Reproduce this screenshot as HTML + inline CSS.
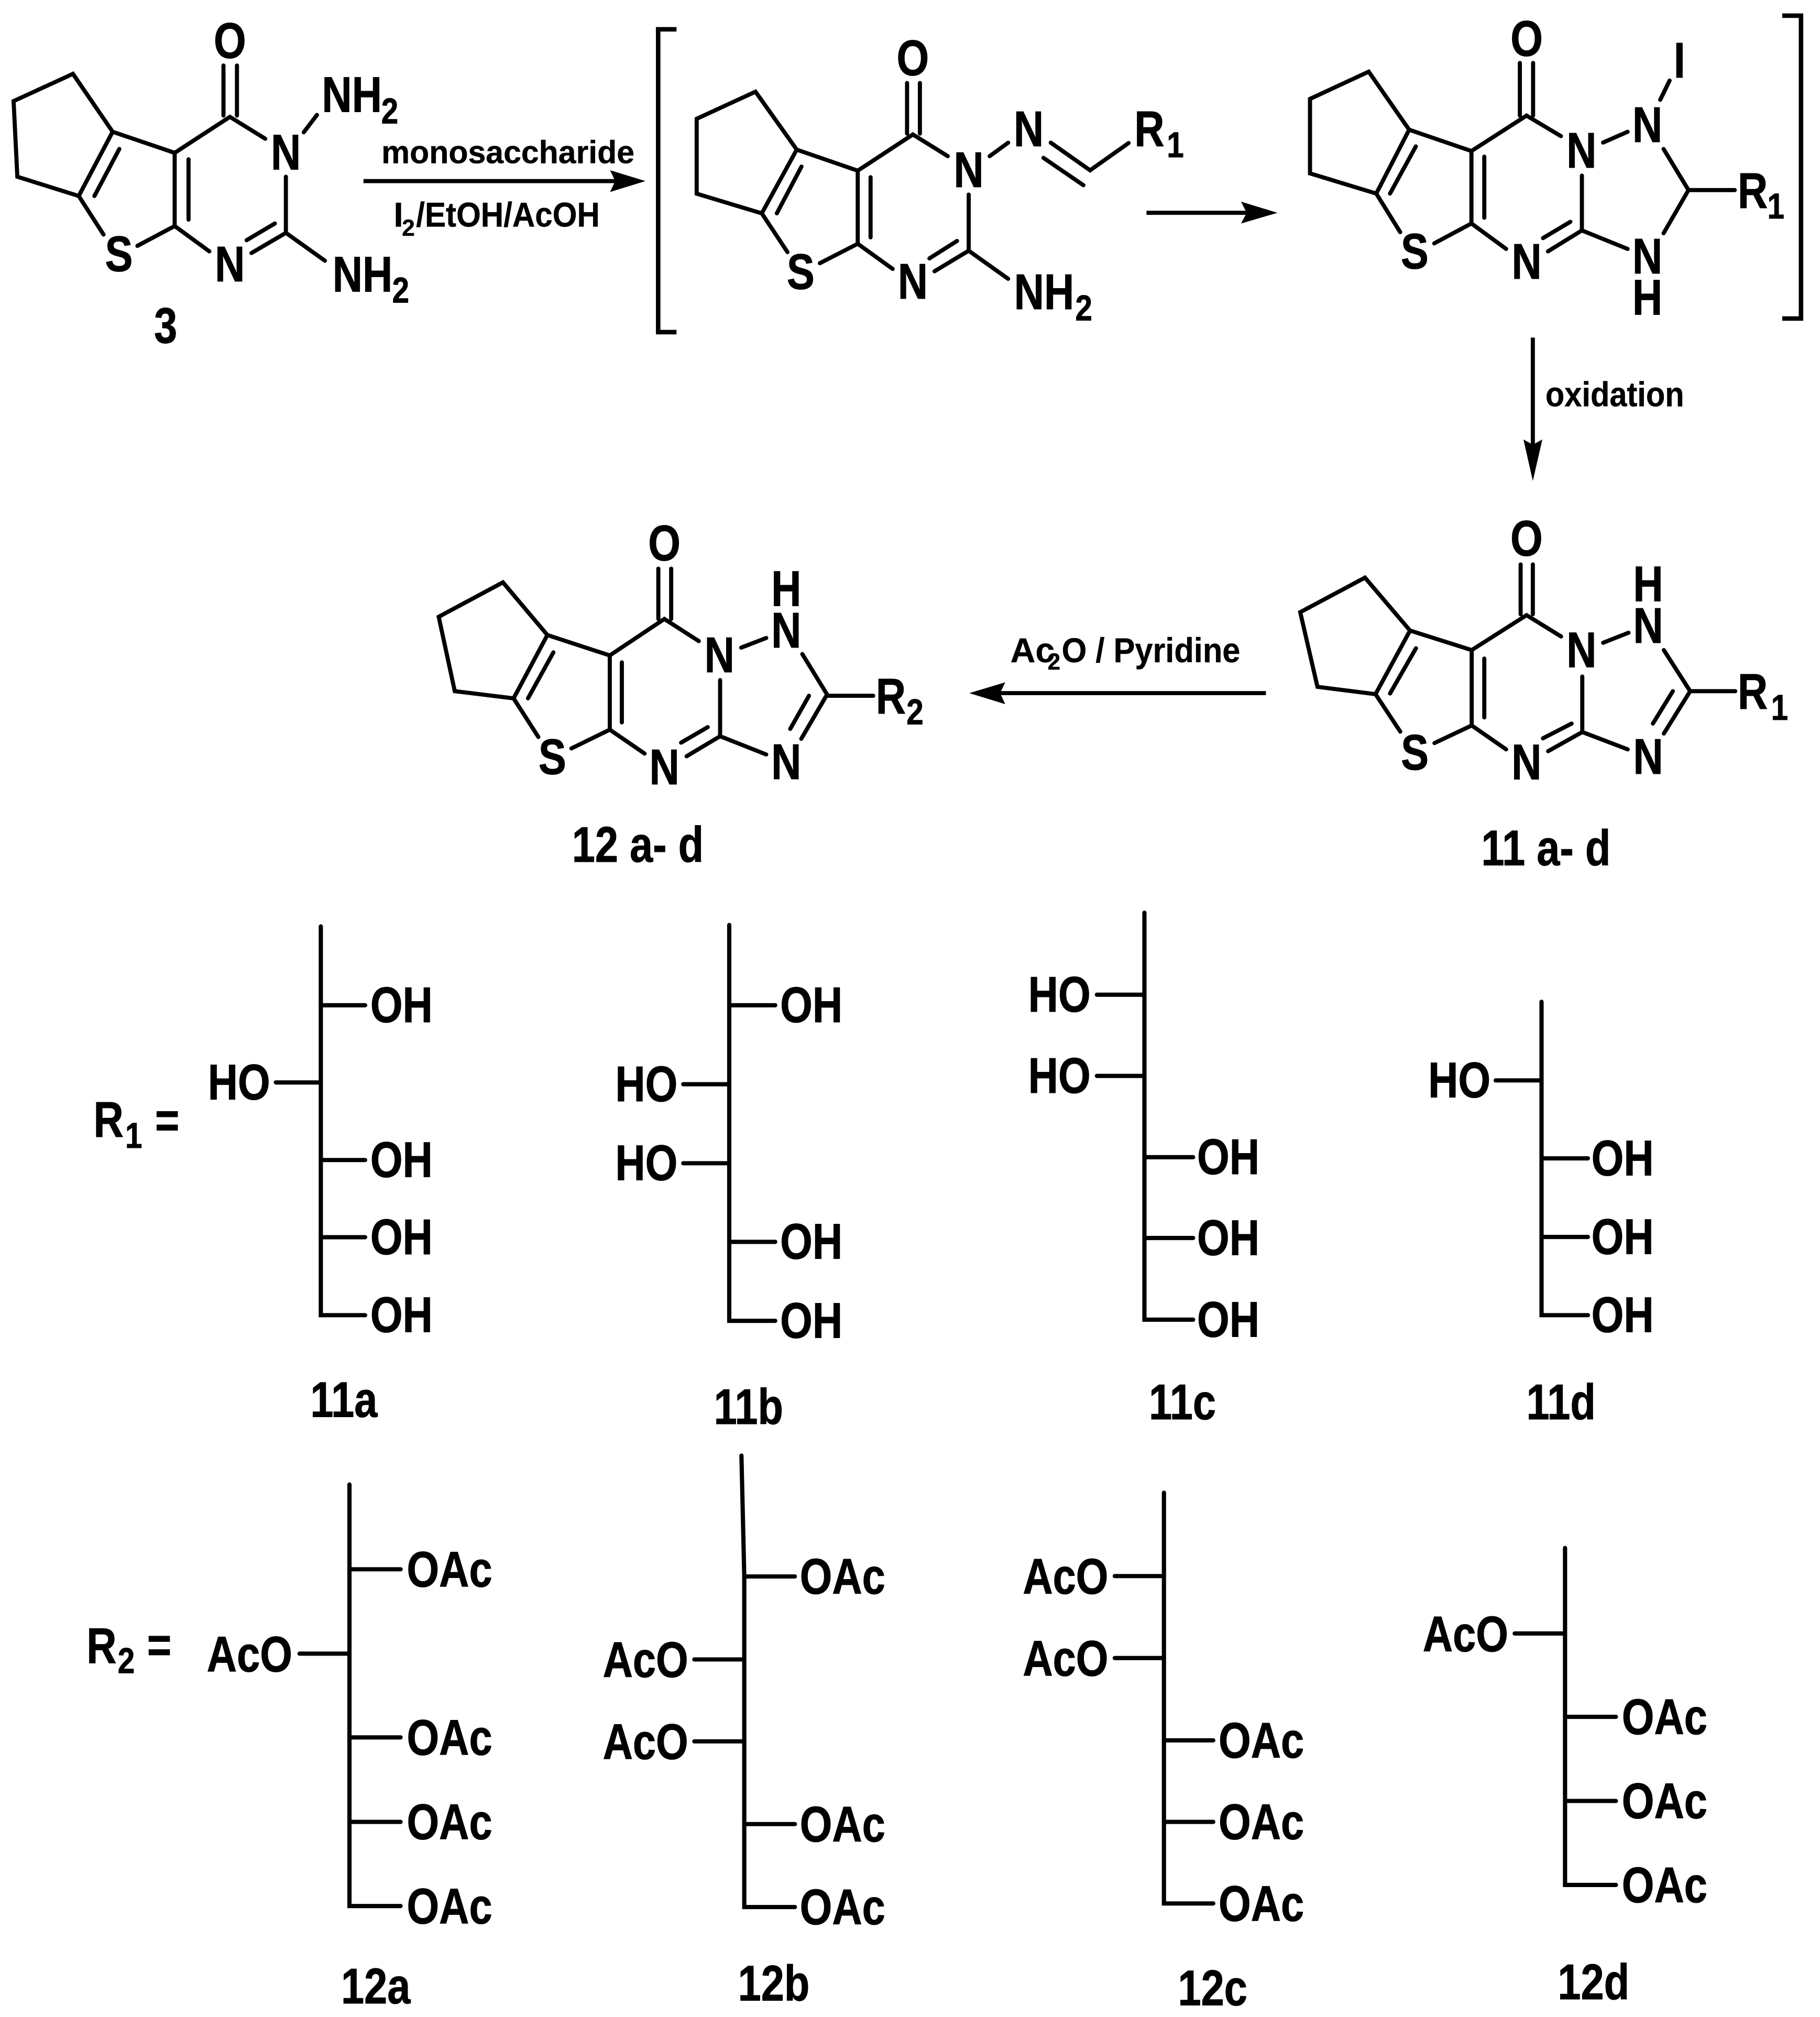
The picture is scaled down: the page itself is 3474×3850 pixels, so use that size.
<!DOCTYPE html>
<html><head><meta charset="utf-8">
<style>
html,body{margin:0;padding:0;background:#fff;width:3474px;height:3850px;overflow:hidden}
svg{display:block}
text{font-family:"Liberation Sans",sans-serif;font-weight:700;fill:#000;stroke:#000;stroke-width:.4;text-anchor:middle;font-size:39px;transform-box:fill-box;transform-origin:center;transform:scaleX(.83)}
text.s{font-size:28px;transform:scaleX(.85)}
text.r{text-anchor:start;font-size:25px;transform:none;stroke-width:.2}
text.r2{text-anchor:start;font-size:27px;transform:none;stroke-width:.2}
text.rs{text-anchor:middle;font-size:18px;transform:none;stroke-width:.2}
line,polyline{stroke:#000;stroke-width:3.2;stroke-linecap:round;stroke-linejoin:miter;fill:none}
.l line,.l polyline{stroke-width:3.3}
polygon{fill:#000;stroke:none}
</style></head><body>
<svg xmlns="http://www.w3.org/2000/svg" width="3474" height="3850" viewBox="0 0 1410 1562.6">
<rect width="1410" height="1562.6" fill="#fff"/>

<!-- Compound 3 -->
<g transform="scale(.995)">
<polyline points="87.7,102.6 56.8,57.5 10.6,78.7 13.5,137.6 61.3,152.6 87.7,102.6 136,119 179,91 206.5,108"/>
<line x1="92.9" y1="116" x2="73.5" y2="152.6"/>
<line x1="174" y1="51" x2="174" y2="90"/><line x1="184.5" y1="51" x2="184.5" y2="90"/>
<line x1="136" y1="119" x2="136" y2="176"/><line x1="146.8" y1="124" x2="146.8" y2="171"/>
<line x1="61.3" y1="152.6" x2="80.6" y2="182.6"/><line x1="107" y1="191.4" x2="136" y2="176"/><line x1="136" y1="176" x2="163" y2="195.7"/>
<line x1="222.6" y1="137.6" x2="222.6" y2="181.3"/><line x1="222.6" y1="181.3" x2="195.8" y2="197"/>
<line x1="214" y1="174" x2="192" y2="187"/><line x1="222.6" y1="181.3" x2="253" y2="203"/>
<line x1="236.5" y1="103" x2="246.8" y2="89.5"/>
<text x="179" y="45">O</text><text x="222.6" y="132">N</text><text x="92.6" y="211">S</text><text x="179" y="219">N</text>
<text x="274" y="87">NH</text><text class="s" x="303.5" y="96">2</text>
<text x="282.3" y="227">NH</text><text class="s" x="312" y="235.6">2</text>
<text x="129" y="267">3</text>
<line x1="283" y1="141" x2="490" y2="141" style="stroke-linecap:butt"/>
<polygon points="502.6,141 475,149.5 479,141 475,132.5"/>
<text class="r" x="297" y="127" textLength="197" lengthAdjust="spacingAndGlyphs">monosaccharide</text>
<text class="r" x="306.5" y="176.4" style="font-size:27px">I</text>
<text class="rs" x="318" y="183.5">2</text>
<text class="r" x="324" y="176.4" textLength="143" lengthAdjust="spacingAndGlyphs" style="font-size:27px">/EtOH/AcOH</text>
</g>

<!-- Hydrazone intermediate -->
<g transform="translate(487.1 0) scale(.995) translate(-487.1 0)">
<polyline points="524.3,22.8 510,22.8 510,258.6 524.3,258.6" style="stroke-linecap:butt;stroke-width:3.5"/>
<polyline points="617.9,116.5 585.8,71.4 540,92.5 540,150.8 590.7,166.1 617.9,116.5 665.4,132.9 708.3,104.7 735.5,121.6"/>
<line x1="621.6" y1="129.7" x2="602.4" y2="166.1"/>
<line x1="703.8" y1="64.6" x2="703.8" y2="104"/><line x1="713.8" y1="64.6" x2="713.8" y2="104"/>
<line x1="665.4" y1="132.9" x2="665.4" y2="189.8"/><line x1="675.4" y1="138" x2="675.4" y2="184.8"/>
<line x1="590.7" y1="166.1" x2="610.7" y2="196.3"/><line x1="635.9" y1="204.9" x2="665.4" y2="189.8"/><line x1="665.4" y1="189.8" x2="692.6" y2="209.4"/>
<line x1="751.8" y1="151.5" x2="751.8" y2="195.2"/><line x1="751.8" y1="195.2" x2="725.2" y2="211.2"/>
<line x1="742.7" y1="187.6" x2="721.2" y2="201.2"/><line x1="751.8" y1="195.2" x2="782.5" y2="217.1"/>
<line x1="768.1" y1="121.6" x2="782.5" y2="111.1"/>
<polyline points="815.7,111.1 846.3,132.6 876.3,111.4"/><line x1="810" y1="122.9" x2="841.1" y2="144.2"/>
<text x="708.3" y="58.6">O</text><text x="751.8" y="145.7">N</text><text x="798.5" y="113.8">N</text>
<text x="892.5" y="113.8">R</text><text class="s" x="912.7" y="122.4">1</text>
<text x="621" y="224.9">S</text><text x="708.3" y="232.5">N</text>
<text x="810.5" y="240.7">NH</text><text class="s" x="841.4" y="249.5">2</text>
</g>

<!-- Iodo intermediate -->
<g transform="translate(933.5 0) scale(.995) translate(-933.5 0)">
<line x1="888" y1="165.7" x2="975" y2="165.7" style="stroke-linecap:butt"/>
<polygon points="990,165.7 961.6,174 966,165.7 961.6,157"/>
<polyline points="1092.5,101 1061,55.8 1015.3,77 1015.3,135 1066.9,150.7 1092.5,101 1141,117.6 1183.9,90 1210.7,106"/>
<line x1="1097.7" y1="114" x2="1077.6" y2="150.7"/>
<line x1="1178.7" y1="49" x2="1178.7" y2="90"/><line x1="1189" y1="49" x2="1189" y2="90"/>
<line x1="1141" y1="117.6" x2="1141" y2="174"/><line x1="1151" y1="122" x2="1151" y2="169.5"/>
<line x1="1066.9" y1="150.7" x2="1085.5" y2="180.7"/><line x1="1112" y1="189.5" x2="1141" y2="174"/><line x1="1141" y1="174" x2="1168" y2="193.8"/>
<line x1="1227" y1="136.7" x2="1227" y2="179.4"/><line x1="1227" y1="179.4" x2="1200.6" y2="195.7"/>
<line x1="1218" y1="172.7" x2="1196.7" y2="185.4"/><line x1="1227" y1="179.4" x2="1262.6" y2="193.8"/>
<line x1="1243.5" y1="111" x2="1262.6" y2="102.6"/>
<polyline points="1290.6,116 1310,148 1290.6,181.6"/><line x1="1310" y1="148" x2="1346" y2="148"/>
<line x1="1288" y1="77.7" x2="1295.3" y2="62.7"/>
<text x="1184" y="43.4">O</text><text x="1303" y="60.3">I</text><text x="1278" y="110.5">N</text><text x="1226.7" y="130.5">N</text>
<text x="1360" y="162">R</text><text class="s" x="1378" y="170">1</text>
<text x="1096.8" y="209">S</text><text x="1184" y="217">N</text><text x="1278" y="213">N</text><text x="1278" y="245">H</text>
<polyline points="1383,12.2 1397.6,12.2 1397.6,248 1383,248" style="stroke-linecap:butt;stroke-width:3.5"/>
</g>

<!-- Compound 11, oxidation and Ac2O arrows -->
<g transform="translate(933.5 251.6) scale(.995) translate(-933.5 -251.6)">
<line x1="1188.8" y1="261.6" x2="1188.8" y2="350" style="stroke-linecap:butt"/>
<polygon points="1188.8,373.2 1181.5,340.9 1188.8,345 1196.2,340.9"/>
<text class="r2" x="1198.6" y="315.1" textLength="108" lengthAdjust="spacingAndGlyphs">oxidation</text>
<polyline points="1093.2,489.7 1058.1,448.5 1007.7,475.4 1021.1,533.5 1066.3,539.2 1093.2,489.7 1141.2,504.9 1183.9,477.7 1210.8,494.3"/>
<line x1="1097.8" y1="503.5" x2="1077.6" y2="538.7"/>
<line x1="1179.3" y1="438.2" x2="1179.3" y2="477"/><line x1="1188.8" y1="438.2" x2="1188.8" y2="477"/>
<line x1="1141.2" y1="504.9" x2="1141.2" y2="563.6"/><line x1="1151" y1="511.5" x2="1151" y2="557.3"/>
<line x1="1066.3" y1="539.2" x2="1085.6" y2="568.4"/><line x1="1112.2" y1="577.3" x2="1141.2" y2="563.6"/><line x1="1141.2" y1="563.6" x2="1168" y2="582.2"/>
<line x1="1227.3" y1="525.5" x2="1227.3" y2="568.7"/><line x1="1227.3" y1="568.7" x2="1200.7" y2="583.6"/>
<line x1="1219" y1="562.1" x2="1196.7" y2="573.6"/><line x1="1227.3" y1="568.7" x2="1262.7" y2="582.2"/>
<line x1="1243.5" y1="499.2" x2="1263.3" y2="491.4"/>
<polyline points="1290.8,504.9 1311.3,536.9 1290.8,569.9"/><line x1="1297.8" y1="536.9" x2="1282.3" y2="562.1"/>
<line x1="1311.3" y1="536.9" x2="1346.4" y2="536.9"/>
<text x="1183.9" y="431.3">O</text><text x="1278.6" y="466.8">H</text><text x="1278.6" y="499.2">N</text><text x="1226.7" y="518.3">N</text>
<text x="1360" y="550.7">R</text><text class="s" x="1380.9" y="559.3">1</text>
<text x="1096.9" y="597.9">S</text><text x="1183.9" y="605.6">N</text><text x="1278.6" y="601.3">N</text>
<text x="1199" y="672.3">11 a- d</text>
<line x1="768" y1="538.4" x2="981" y2="538.4" style="stroke-linecap:butt"/>
<polygon points="750,538.4 778,530 774,538.4 778,547"/>
<text class="r2" x="782" y="514.3">Ac</text>
<text class="rs" x="816" y="520">2</text>
<text class="r2" x="822" y="514.3" textLength="139" lengthAdjust="spacingAndGlyphs">O / Pyridine</text>
</g>

<!-- Compound 12 -->
<g transform="translate(316.6 385.6) scale(.995) translate(-316.6 -385.6)">
<polyline points="424.6,492.5 390,451.5 340,478.3 352.5,536.2 398.3,541.8 424.6,492.5 473.2,508.4 515.7,480 542.5,497.2"/>
<line x1="429.3" y1="506" x2="409.5" y2="541.8"/>
<line x1="511" y1="440.8" x2="511" y2="480"/><line x1="521" y1="440.8" x2="521" y2="480"/>
<line x1="473.2" y1="508.4" x2="473.2" y2="566.2"/><line x1="482.6" y1="513.8" x2="482.6" y2="560.5"/>
<line x1="398.3" y1="541.8" x2="417.6" y2="571.9"/><line x1="443.3" y1="580.8" x2="473.2" y2="566.2"/><line x1="473.2" y1="566.2" x2="500.3" y2="584.8"/>
<line x1="559.1" y1="527.6" x2="559.1" y2="571.3"/><line x1="559.1" y1="571.3" x2="533" y2="586.9"/>
<line x1="549.5" y1="564.2" x2="528.7" y2="576.3"/><line x1="559.1" y1="571.3" x2="595" y2="585.5"/>
<line x1="575.5" y1="502.3" x2="595" y2="494.8"/>
<polyline points="623.1,507.3 642.4,538.8 622.3,573.3"/><line x1="628.3" y1="539.8" x2="613.7" y2="565.6"/>
<line x1="642.4" y1="539.8" x2="678.3" y2="539.8"/>
<text x="515.7" y="434.3">O</text><text x="610.6" y="469.8">H</text><text x="610.6" y="502.3">N</text><text x="558.6" y="521.5">N</text>
<text x="692" y="553.6">R</text><text class="s" x="710.8" y="562">2</text>
<text x="428.5" y="600.7">S</text><text x="515.7" y="608.8">N</text><text x="610.6" y="604.7">N</text>
<text x="495" y="669">12 a- d</text>
</g>

<!-- 11a, 11b -->
<g transform="translate(40.6 698.1) scale(.995) translate(-40.6 -698.1)">
<text x="84.3" y="881.7">R</text><text class="s" x="103.9" y="890.2">1</text><text x="130" y="882">=</text>
<g class="l">
<polyline points="249.6,717.8 249.6,1020.5 284.1,1020.5"/>
<line x1="249.6" y1="779.2" x2="284.1" y2="779.2"/><line x1="214.6" y1="839.3" x2="249.6" y2="839.3"/>
<line x1="249.6" y1="899.7" x2="284.1" y2="899.7"/><line x1="249.6" y1="959.8" x2="284.1" y2="959.8"/>
<polyline points="567.6,716.7 567.6,1024.9 603.4,1024.9"/>
<line x1="567.6" y1="779.2" x2="603.4" y2="779.2"/><line x1="531.8" y1="840.7" x2="567.6" y2="840.7"/><line x1="531.8" y1="902.2" x2="567.6" y2="902.2"/>
<line x1="567.6" y1="963.4" x2="603.4" y2="963.4"/>
</g>
<text x="312.4" y="792.4">OH</text><text x="185.9" y="852.5">HO</text><text x="312.4" y="912.9">OH</text><text x="312.4" y="973">OH</text><text x="312.4" y="1033.7">OH</text>
<text x="267.5" y="1099.7">11a</text>
<text x="631.5" y="792.4">OH</text><text x="503.1" y="853.9">HO</text><text x="503.1" y="915.4">HO</text><text x="631.5" y="976.6">OH</text><text x="631.5" y="1038.1">OH</text>
<text x="582.6" y="1105.2">11b</text>
</g>

<!-- 11c, 11d -->
<g transform="translate(730.6 698.1) scale(.995) translate(-730.6 -698.1)">
<g class="l">
<polyline points="887.4,707.1 887.4,1024 925.3,1024"/>
<line x1="850.4" y1="771" x2="887.4" y2="771"/><line x1="850.4" y1="834.2" x2="887.4" y2="834.2"/>
<line x1="887.4" y1="897.5" x2="925.3" y2="897.5"/><line x1="887.4" y1="960.4" x2="925.3" y2="960.4"/>
<polyline points="1196.6,776.5 1196.6,1020.5 1232.7,1020.5"/>
<line x1="1160.9" y1="837.7" x2="1196.6" y2="837.7"/>
<line x1="1196.6" y1="898.4" x2="1232.7" y2="898.4"/><line x1="1196.6" y1="959.6" x2="1232.7" y2="959.6"/>
</g>
<text x="821.2" y="784.2">HO</text><text x="821.2" y="847.4">HO</text><text x="952.7" y="910.7">OH</text><text x="952.7" y="973.6">OH</text><text x="952.7" y="1037.2">OH</text>
<text x="917" y="1101.6">11c</text>
<text x="1132.6" y="850.9">HO</text><text x="1259.7" y="911.6">OH</text><text x="1259.7" y="972.8">OH</text><text x="1259.7" y="1033.7">OH</text>
<text x="1211.8" y="1101.6">11d</text>
</g>

<!-- 12a, 12b -->
<g transform="translate(40.6 1124.3) scale(.995) translate(-40.6 -1124.3)">
<text x="78.9" y="1289.2">R</text><text class="s" x="98.1" y="1297">2</text><text x="123.8" y="1288.5">=</text>
<g class="l">
<polyline points="271.9,1150.2 271.9,1478.4 311.7,1478.4"/>
<line x1="271.9" y1="1216.2" x2="311.7" y2="1216.2"/><line x1="233" y1="1281.9" x2="271.9" y2="1281.9"/>
<line x1="271.9" y1="1347.1" x2="311.7" y2="1347.1"/><line x1="271.9" y1="1412.9" x2="311.7" y2="1412.9"/>
<polyline points="577.1,1127.7 579.3,1221.8 579.3,1479.2 618.7,1479.2"/>
<line x1="579.3" y1="1221.8" x2="618.7" y2="1221.8"/><line x1="540.4" y1="1286.4" x2="579.3" y2="1286.4"/><line x1="540.4" y1="1350.2" x2="579.3" y2="1350.2"/>
<line x1="579.3" y1="1414.6" x2="618.7" y2="1414.6"/>
</g>
<text x="349.8" y="1229.7">OAc</text><text x="194.1" y="1295.7">AcO</text><text x="349.8" y="1360.6">OAc</text><text x="349.8" y="1426.4">OAc</text><text x="349.8" y="1491.9">OAc</text>
<text x="292.3" y="1554.2">12a</text>
<text x="655.8" y="1235.3">OAc</text><text x="502.4" y="1300">AcO</text><text x="502.4" y="1364">AcO</text><text x="655.8" y="1428.1">OAc</text><text x="655.8" y="1492.7">OAc</text>
<text x="602.3" y="1552">12b</text>
</g>

<!-- 12c, 12d -->
<g transform="translate(730.6 1124.3) scale(.995) translate(-730.6 -1124.3)">
<g class="l">
<polyline points="902.6,1156.6 902.6,1476.4 941,1476.4"/>
<line x1="864.3" y1="1221.5" x2="902.6" y2="1221.5"/><line x1="864.3" y1="1285.3" x2="902.6" y2="1285.3"/>
<line x1="902.6" y1="1349.4" x2="941" y2="1349.4"/><line x1="902.6" y1="1412.9" x2="941" y2="1412.9"/>
<polyline points="1214.9,1199.6 1214.9,1462 1254.5,1462"/>
<line x1="1175.7" y1="1266.2" x2="1214.9" y2="1266.2"/>
<line x1="1214.9" y1="1331.1" x2="1254.5" y2="1331.1"/><line x1="1214.9" y1="1396.6" x2="1254.5" y2="1396.6"/>
</g>
<text x="826" y="1235.3">AcO</text><text x="826" y="1299.1">AcO</text><text x="978.4" y="1362.9">OAc</text><text x="978.4" y="1426.4">OAc</text><text x="978.4" y="1489.9">OAc</text>
<text x="940.5" y="1555.6">12c</text>
<text x="1137.4" y="1280">AcO</text><text x="1292.4" y="1344.6">OAc</text><text x="1292.4" y="1410.1">OAc</text><text x="1292.4" y="1475.5">OAc</text>
<text x="1237.1" y="1550.9">12d</text>
</g>
</svg>
</body></html>
